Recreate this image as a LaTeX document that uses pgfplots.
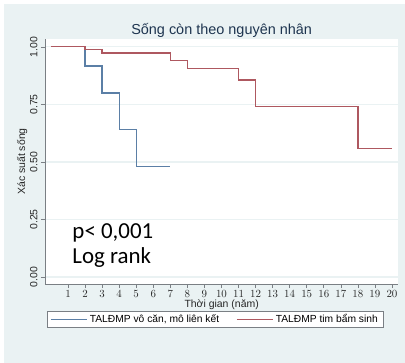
\documentclass[border=0pt]{standalone}
\usepackage{pgfplots}
\pgfplotsset{compat=1.18}
\usepackage{fontspec}
\setmainfont{Liberation Sans}
\newfontfamily\calib{Carlito}
\definecolor{bgc}{HTML}{EAF2F3}
\definecolor{gridc}{HTML}{EAF2F3}
\definecolor{sblue}{HTML}{5B7FA6}
\definecolor{sred}{HTML}{AE5860}
\definecolor{titc}{HTML}{1E3550}
\definecolor{axc}{HTML}{7A7F84}
\begin{document}
\begin{tikzpicture}[x=1bp,y=1bp]
\fill[white] (0,0) rectangle (405,363);
\fill[bgc] (4,0) rectangle (405,359);
\useasboundingbox (0,0) rectangle (405,363);
\begin{axis}[
  at={(45bp,79bp)}, anchor=south west,
  scale only axis, width=353.3bp, height=245bp,
  xmin=-0.35, xmax=20.37, ymin=-0.03, ymax=1.034,
  axis background/.style={fill=white},
  axis x line*=bottom, axis y line*=left,
  axis line style={axc, line width=0.8pt, -},
  xtick={1,...,20}, ytick={0,0.25,0.5,0.75,1},
  yticklabels={0.00,0.25,0.50,0.75,1.00},
  yticklabel style={rotate=90, anchor=south, font=\fontsize{10.5}{12}\selectfont, text=black!85},
  xticklabel style={font=\fontsize{10.5}{12}\selectfont, text=black!85, yshift=1.5bp},
  tick style={axc, line width=0.6pt},
  tick align=outside, major tick length=4bp,
  ymajorgrids, grid style={gridc, line width=1.2pt},
  title={Sống còn theo nguyên nhân},
  title style={font=\fontsize{14.5}{16}\selectfont, text=titc, at={(0.5,1)}, anchor=south, yshift=-8bp},
  xlabel={Thời gian (năm)}, ylabel={Xác suất sống},
  xlabel style={font=\fontsize{10.5}{12}\selectfont, text=black!85, yshift=4bp},
  ylabel style={font=\fontsize{10.5}{12}\selectfont, text=black!85, yshift=-4bp},
  legend style={at={(0.006,-0.109)}, anchor=north west, draw=axc, line width=0.5pt, fill=white,
    font=\fontsize{10.3}{12}\selectfont, legend columns=2, inner xsep=3bp, inner ysep=1bp,
    nodes={inner xsep=2.5bp, inner ysep=2.5bp},
    /tikz/every even column/.append style={column sep=11bp}},
  legend image code/.code={\draw[#1] (0bp,0bp) -- (36bp,0bp);},
  clip=false,
]
\addlegendimage{sblue, line width=1pt}
\addlegendentry{\makebox[133bp][l]{TALĐMP vô căn, mô liên kết}}
\addlegendimage{sred, line width=1pt}
\addlegendentry{\makebox[102bp][l]{TALĐMP tim bẩm sinh}}
\addplot[sblue, line width=1.3pt, const plot, forget plot] coordinates {
 (0,1) (2,0.917) (3,0.80) (4,0.641) (5,0.481) (7,0.481)};
\addplot[sred, line width=1.3pt, const plot, forget plot] coordinates {
 (0,1) (2,0.988) (3,0.973) (7,0.942) (8,0.906) (11,0.856) (12,0.740) (18,0.557) (20,0.557)};
\node[anchor=north west, align=left, font=\calib\fontsize{23}{26}\selectfont, inner sep=0pt]
  at (axis cs:1.25,0.235) {p< 0,001\\Log rank};
\end{axis}
\end{tikzpicture}
\end{document}
